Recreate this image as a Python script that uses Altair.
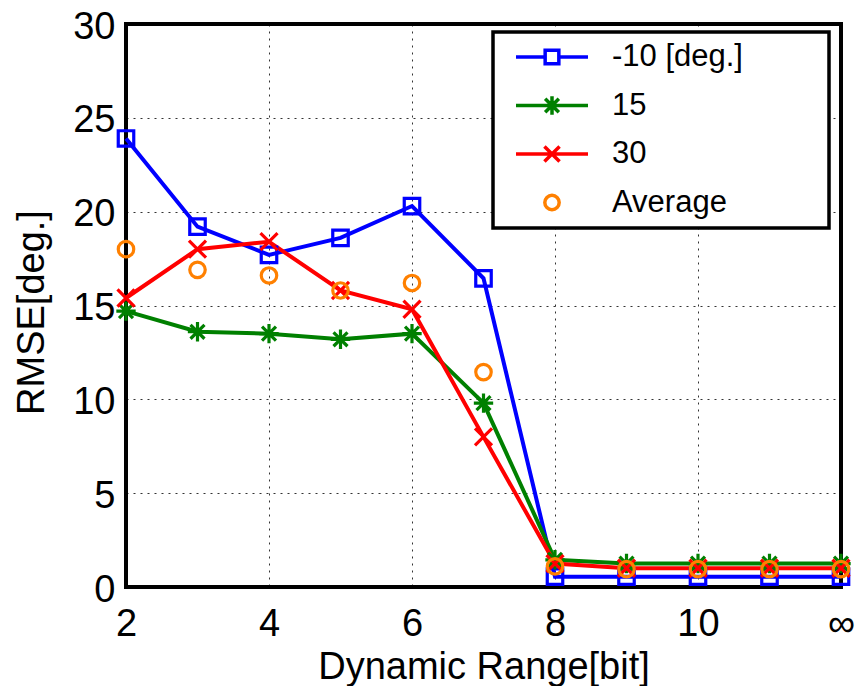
import altair as alt
import pandas as pd

bits = [2, 3, 4, 5, 6, 7, 8, 9, 10, 11, 12]
series_names = ["-10 [deg.]", "15", "30", "Average"]
rmse_m10 = [23.9, 19.2, 17.7, 18.6, 20.3, 16.45, 0.55, 0.55, 0.55, 0.55, 0.55]
rmse_15 = [14.7, 13.6, 13.5, 13.2, 13.5, 9.8, 1.45, 1.25, 1.25, 1.25, 1.25]
rmse_30 = [15.4, 18.0, 18.4, 15.8, 14.8, 8.0, 1.25, 1.0, 1.0, 1.0, 1.0]
rmse_avg = [18.0, 16.9, 16.6, 15.8, 16.2, 11.45, 1.1, 0.95, 0.95, 0.95, 0.95]
colors = ["#0000ff", "#008000", "#ff0000", "#ff8000"]
x_ticks = [2, 4, 6, 8, 10, 12]
y_ticks = [0, 5, 10, 15, 20, 25, 30]

rows = []
for name, vals in zip(series_names, [rmse_m10, rmse_15, rmse_30, rmse_avg]):
    for b, v in zip(bits, vals):
        rows.append({"bit": b, "rmse": v, "series": name, "order": series_names.index(name)})
df = pd.DataFrame(rows)

# marker shapes for the plot
sq = "M-1,-1H1V1H-1Z"
ast = "M0,-1.25V1.25M-1.25,0H1.25M-0.9,-0.9L0.9,0.9M-0.9,0.9L0.9,-0.9"
xm = "M-1.1,-1.1L1.1,1.1M-1.1,1.1L1.1,-1.1"
marker_shapes = [sq, ast, xm, "circle"]

# legend symbols: line with marker (scale 36 px per unit)
lg_sq = "M-1,0H-0.19M0.19,0H1M-0.19,-0.19H0.19V0.19H-0.19Z"
lg_ast = "M-1,0H1M0,-0.26V0.26M-0.19,-0.19L0.19,0.19M-0.19,0.19L0.19,-0.19"
lg_x = "M-1,0H1M-0.21,-0.21L0.21,0.21M-0.21,0.21L0.21,-0.21"
lg_c = "M0.2,0A0.2,0.2 0 1 1 -0.2,0A0.2,0.2 0 1 1 0.2,0Z"
legend_shapes = [lg_sq, lg_ast, lg_x, lg_c]

xenc = alt.X(
    "bit:Q",
    scale=alt.Scale(domain=[2, 12], nice=False),
    axis=alt.Axis(
        values=x_ticks,
        labelExpr="datum.value == 12 ? '∞' : datum.label",
        labelFlush=False,
        title="Dynamic Range[bit]",
        titleY=91,
        titleBaseline="alphabetic",
        labelPadding=18,
    ),
)
yenc = alt.Y(
    "rmse:Q",
    scale=alt.Scale(domain=[0, 30], nice=False),
    axis=alt.Axis(
        values=y_ticks,
        title="RMSE[deg.]",
        titleX=-83,
        titleY=288,
        titleBaseline="alphabetic",
        labelPadding=11,
        labelOffset=3,
        labelFlush=False,
    ),
)

color_scale = alt.Scale(domain=series_names, range=colors)

lines = (
    alt.Chart(df[df["series"] != "Average"])
    .mark_line(strokeWidth=4)
    .encode(
        x=xenc,
        y=yenc,
        color=alt.Color("series:N", scale=color_scale, legend=None),
        detail="series:N",
        order="bit:Q",
    )
)

points = (
    alt.Chart(df)
    .mark_point(filled=False, strokeWidth=3.2, size=240, opacity=1)
    .encode(
        x=xenc,
        y=yenc,
        color=alt.Color("series:N", scale=color_scale, legend=None),
        shape=alt.Shape("series:N", scale=alt.Scale(domain=series_names, range=marker_shapes), legend=None),
        order="order:Q",
    )
)

leg = alt.Legend(
    title=None,
    orient="none",
    legendX=367,
    legendY=8,
    symbolSize=5184,
    clipHeight=30,
    rowPadding=17.5,
    labelOffset=22,
    symbolOffset=11,
    symbolStrokeWidth=3.5,
    symbolOpacity=1,
    labelFontSize=31,
    labelFont="Liberation Sans",
    labelColor="black",
    labelLimit=500,
    padding=10,
    strokeColor="black",
    fillColor="white",
    labelExpr="datum.label + '\u2009\u2800\u2800\u2800'",
)

legend_layer = (
    alt.Chart(df)
    .mark_point(filled=False, opacity=0)
    .encode(
        x=xenc,
        y=yenc,
        color=alt.Color("series:N", scale=color_scale, legend=leg),
        shape=alt.Shape("series:N", scale=alt.Scale(domain=series_names, range=legend_shapes), legend=leg),
    )
)

chart = (
    alt.layer(lines, points, legend_layer)
    .resolve_scale(color="independent", shape="independent")
    .properties(
        width=715,
        height=563,
        autosize=alt.AutoSizeParams(type="none"),
        padding={"left": 126, "top": 24, "right": 14, "bottom": 99},
        background="white",
    )
    .configure_view(stroke="black", strokeWidth=4)
    .configure_axis(
        domain=False,
        ticks=False,
        grid=True,
        gridColor="black",
        gridDash=[2, 5],
        gridWidth=1,
        gridOpacity=0.8,
        labelFont="Liberation Sans",
        labelFontSize=38,
        labelColor="black",
        titleFont="Liberation Sans",
        titleFontSize=38,
        titleFontWeight="normal",
        titleColor="black",
    )
    .configure_legend(strokeWidth=3.5)
)

chart.save("out.html", embed_options={"renderer": "svg", "actions": False})
